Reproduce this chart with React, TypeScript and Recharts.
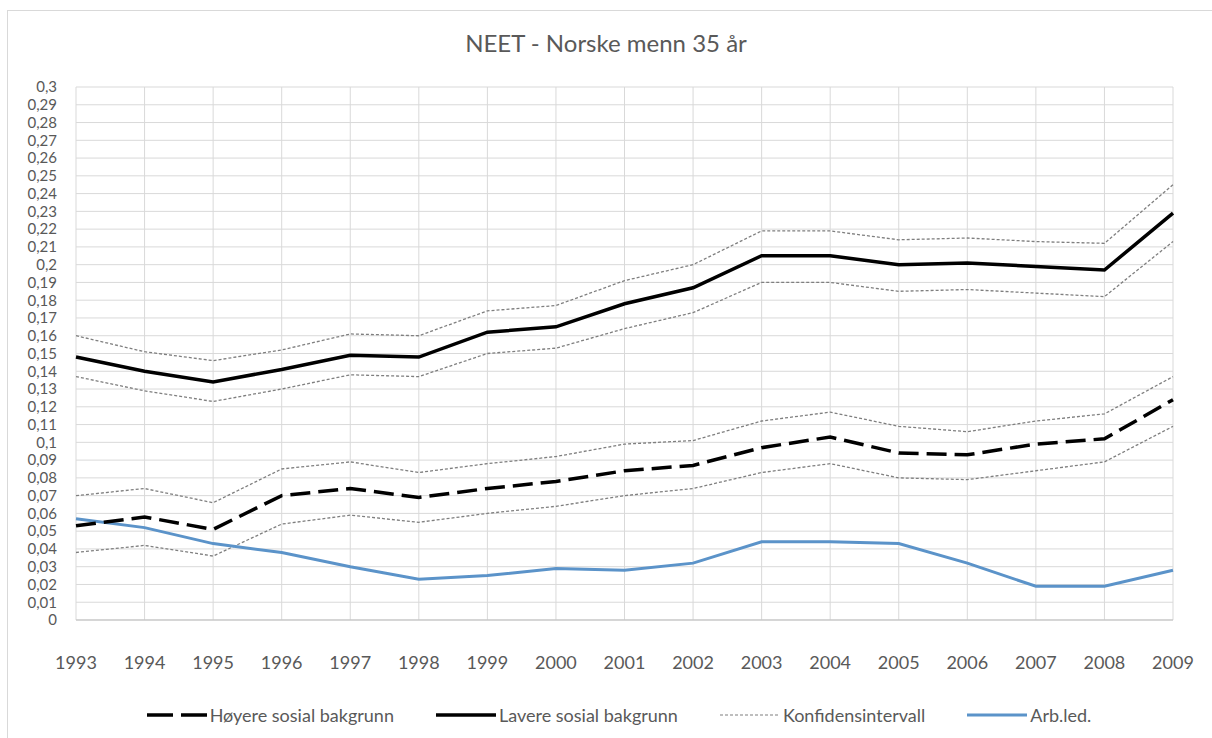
import { LineChart, Line, XAxis, YAxis, CartesianGrid, Legend } from "recharts";

const years = ["1993", "1994", "1995", "1996", "1997", "1998", "1999", "2000", "2001",
  "2002", "2003", "2004", "2005", "2006", "2007", "2008", "2009"];

const hoyere      = [0.053, 0.058, 0.051, 0.070, 0.074, 0.069, 0.074, 0.078, 0.084, 0.087, 0.097, 0.103, 0.094, 0.093, 0.099, 0.102, 0.124];
const hoyereUpper = [0.070, 0.074, 0.066, 0.085, 0.089, 0.083, 0.088, 0.092, 0.099, 0.101, 0.112, 0.117, 0.109, 0.106, 0.112, 0.116, 0.137];
const hoyereLower = [0.038, 0.042, 0.036, 0.054, 0.059, 0.055, 0.060, 0.064, 0.070, 0.074, 0.083, 0.088, 0.080, 0.079, 0.084, 0.089, 0.109];
const lavere      = [0.148, 0.140, 0.134, 0.141, 0.149, 0.148, 0.162, 0.165, 0.178, 0.187, 0.205, 0.205, 0.200, 0.201, 0.199, 0.197, 0.229];
const lavereUpper = [0.160, 0.151, 0.146, 0.152, 0.161, 0.160, 0.174, 0.177, 0.191, 0.200, 0.219, 0.219, 0.214, 0.215, 0.213, 0.212, 0.245];
const lavereLower = [0.137, 0.129, 0.123, 0.130, 0.138, 0.137, 0.150, 0.153, 0.164, 0.173, 0.190, 0.190, 0.185, 0.186, 0.184, 0.182, 0.213];
const arbLed      = [0.057, 0.052, 0.043, 0.038, 0.030, 0.023, 0.025, 0.029, 0.028, 0.032, 0.044, 0.044, 0.043, 0.032, 0.019, 0.019, 0.028];

const yTicks = [0, 0.01, 0.02, 0.03, 0.04, 0.05, 0.06, 0.07, 0.08, 0.09, 0.1, 0.11, 0.12, 0.13, 0.14,
  0.15, 0.16, 0.17, 0.18, 0.19, 0.2, 0.21, 0.22, 0.23, 0.24, 0.25, 0.26, 0.27, 0.28, 0.29, 0.3];

const legendItems = [
  { label: "Høyere sosial bakgrunn", color: "#000000", width: 3.5, dash: "26 8" },
  { label: "Lavere sosial bakgrunn", color: "#000000", width: 3.5, dash: undefined },
  { label: "Konfidensintervall", color: "#7f7f7f", width: 1.2, dash: "3 2" },
  { label: "Arb.led.", color: "#5b93c9", width: 3, dash: undefined },
];

const data = years.map((year, i) => ({
  year,
  hoyere: hoyere[i],
  hoyereUpper: hoyereUpper[i],
  hoyereLower: hoyereLower[i],
  lavere: lavere[i],
  lavereUpper: lavereUpper[i],
  lavereLower: lavereLower[i],
  arbLed: arbLed[i],
}));

const FONT = "Lato, 'Open Sans', sans-serif";
const TEXT = "#595959";

const fmtY = (v: number) => String(+v.toFixed(2)).replace(".", ",");

function LegendBox() {
  return (
    <div style={{ display: "flex", justifyContent: "center", gap: 42, paddingLeft: 26,
      fontFamily: FONT, fontSize: 18, color: TEXT }}>
      {legendItems.map(it => (
        <div key={it.label} style={{ display: "flex", alignItems: "center" }}>
          <svg width={60} height={10} style={{ marginRight: 3 }}>
            <line x1={0} y1={5} x2={60} y2={5} stroke={it.color}
              strokeWidth={it.width} strokeDasharray={it.dash} />
          </svg>
          <span>{it.label}</span>
        </div>
      ))}
    </div>
  );
}

export default function App() {
  return (
    <div style={{ position: "absolute", left: 0, top: 0, width: 1212, height: 738,
      background: "#fff", overflow: "hidden" }}>
      {/* chart border */}
      <div style={{ position: "absolute", left: 7, top: 10, width: 1230, height: 760,
        border: "1px solid #d9d9d9" }} />
      <div style={{ position: "absolute", top: 28, width: 1212, textAlign: "center",
        fontFamily: FONT, fontSize: 24, color: TEXT }}>
        NEET - Norske menn 35 år
      </div>
      <LineChart width={1212} height={738} data={data}
        margin={{ top: 87, right: 39, left: 0, bottom: 66 }}>
        <CartesianGrid stroke="#d9d9d9" strokeWidth={1} />
        <XAxis dataKey="year" height={30} tickLine={false} axisLine={{ stroke: "#bfbfbf" }}
          tickSize={6} tickMargin={30} interval={0}
          tick={{ fontSize: 18, fill: TEXT, fontFamily: FONT }} />
        <YAxis width={76} domain={[0, 0.3]} ticks={yTicks} interval={0}
          tickFormatter={fmtY} tickLine={false} axisLine={false} tickSize={6} tickMargin={13}
          tick={{ fontSize: 15, fill: TEXT, fontFamily: FONT }} />
        <Legend verticalAlign="bottom" content={() => <LegendBox />}
          wrapperStyle={{ left: 0, bottom: 12, width: 1212 }} />
        <Line dataKey="lavereUpper" stroke="#7f7f7f" strokeWidth={1.3} strokeDasharray="3 2"
          dot={false} activeDot={false} isAnimationActive={false} />
        <Line dataKey="lavereLower" stroke="#7f7f7f" strokeWidth={1.3} strokeDasharray="3 2"
          dot={false} activeDot={false} isAnimationActive={false} />
        <Line dataKey="hoyereUpper" stroke="#7f7f7f" strokeWidth={1.3} strokeDasharray="3 2"
          dot={false} activeDot={false} isAnimationActive={false} />
        <Line dataKey="hoyereLower" stroke="#7f7f7f" strokeWidth={1.3} strokeDasharray="3 2"
          dot={false} activeDot={false} isAnimationActive={false} />
        <Line dataKey="arbLed" stroke="#5b93c9" strokeWidth={3}
          dot={false} activeDot={false} isAnimationActive={false} />
        <Line dataKey="lavere" stroke="#000" strokeWidth={3.5}
          dot={false} activeDot={false} isAnimationActive={false} />
        <Line dataKey="hoyere" stroke="#000" strokeWidth={3.5} strokeDasharray="20 8"
          dot={false} activeDot={false} isAnimationActive={false} />
      </LineChart>
    </div>
  );
}
